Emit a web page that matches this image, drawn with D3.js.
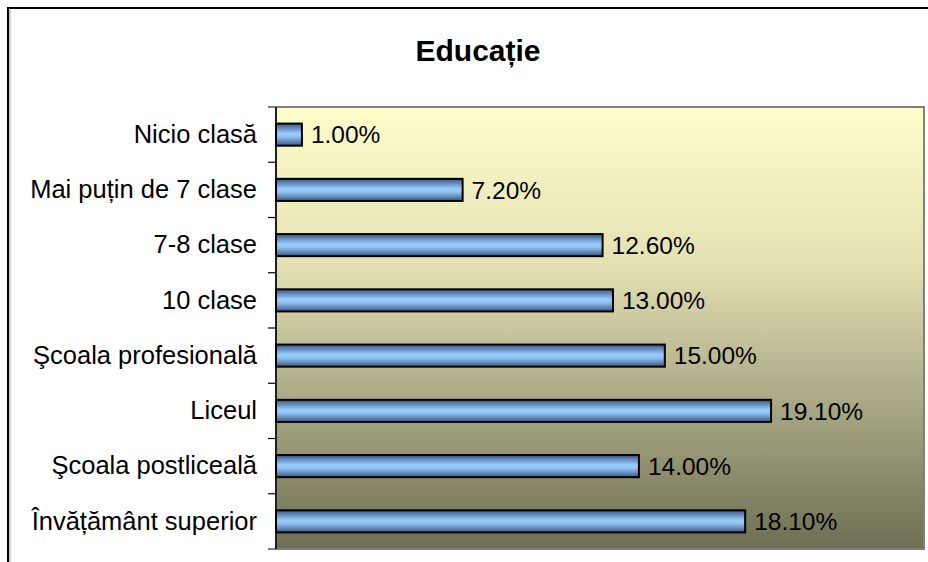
<!DOCTYPE html>
<html>
<head>
<meta charset="utf-8">
<script src="https://cdn.jsdelivr.net/npm/d3@7"></script>
<style>
    html, body { margin: 0; padding: 0; background: #ffffff; overflow: hidden; }
    svg { display: block; font-family: "Liberation Sans", Arial, sans-serif; }
</style>
</head>
<body>
<div id="chart"></div>
<script>
// Chart data
const categories = [
    "Nicio clasă",
    "Mai puțin de 7 clase",
    "7-8 clase",
    "10 clase",
    "Şcoala profesională",
    "Liceul",
    "Şcoala postliceală",
    "Învățământ superior"
];
const values = [1.0, 7.2, 12.6, 13.0, 15.0, 19.1, 14.0, 18.1];
const title  = "Educație";

const WIDTH  = 928;
const HEIGHT = 562;

// Plot area
const plot = { left: 276, top: 107, right: 924, bottom: 549 };

const svg = d3.select("#chart")
    .append("svg")
    .attr("width", WIDTH)
    .attr("height", HEIGHT);

const defs = svg.append("defs");

// Plot background gradient (light yellow -> olive)
const bg = defs.append("linearGradient")
    .attr("id", "plotBg")
    .attr("x1", 0).attr("y1", 0)
    .attr("x2", 0).attr("y2", 1);
bg.append("stop").attr("offset", "0%").attr("stop-color", "#fffdca");
bg.append("stop").attr("offset", "35%").attr("stop-color", "#e4e1b4");
bg.append("stop").attr("offset", "100%").attr("stop-color", "#6e6e53");

// Bar gradient (dark edges, light centre)
const barGrad = defs.append("linearGradient")
    .attr("id", "barGrad")
    .attr("x1", 0).attr("y1", 0)
    .attr("x2", 0).attr("y2", 1);
barGrad.append("stop").attr("offset", "0%").attr("stop-color", "#3a5782");
barGrad.append("stop").attr("offset", "45%").attr("stop-color", "#99ccff");
barGrad.append("stop").attr("offset", "60%").attr("stop-color", "#90c2f4");
barGrad.append("stop").attr("offset", "100%").attr("stop-color", "#3a5782");

// Outer chart frame (runs off the right and bottom edge)
svg.append("rect")
    .attr("x", 8)
    .attr("y", 8)
    .attr("width", 960)
    .attr("height", 600)
    .attr("fill", "none")
    .attr("stroke", "#000")
    .attr("stroke-width", 2);
svg.append("line")
    .attr("x1", 10).attr("y1", 10)
    .attr("x2", 10).attr("y2", HEIGHT)
    .attr("stroke", "#a0a0a0")
    .attr("stroke-width", 1);

// Title
svg.append("text")
    .attr("x", 478)
    .attr("y", 61)
    .attr("text-anchor", "middle")
    .attr("font-size", 30)
    .attr("font-weight", "bold")
    .text(title);

// Scales
const x = d3.scaleLinear()
    .domain([0, 25])
    .range([plot.left, plot.right]);

const y = d3.scaleBand()
    .domain(categories)
    .range([plot.top, plot.bottom])
    .paddingInner(0.6)
    .paddingOuter(0.3);

// Plot background
svg.append("rect")
    .attr("x", plot.left)
    .attr("y", plot.top)
    .attr("width", plot.right - plot.left)
    .attr("height", plot.bottom - plot.top)
    .attr("fill", "url(#plotBg)")
    .attr("stroke", "#808080")
    .attr("stroke-width", 2);

// Category axis ticks sit on the band boundaries
const step = y.step();
const boundaries = d3.range(categories.length + 1).map((i) => plot.top + i * step);

svg.append("g")
    .attr("class", "ticks")
    .selectAll("line")
    .data(boundaries)
    .join("line")
    .attr("x1", plot.left - 8)
    .attr("x2", plot.left)
    .attr("y1", (d) => d)
    .attr("y2", (d) => d)
    .attr("stroke", (d, i) => (i === 0 || i === categories.length) ? "#808080" : "#000")
    .attr("stroke-width", (d, i) => (i === 0 || i === categories.length) ? 2 : 1.2);

// Category labels through the axis generator
const yAxis = svg.append("g")
    .attr("transform", "translate(" + plot.left + ",0)")
    .call(d3.axisLeft(y).tickSize(0).tickPadding(19));

yAxis.select(".domain").remove();
yAxis.selectAll("text")
    .attr("font-size", 25.5)
    .attr("font-family", "'Liberation Sans', Arial, sans-serif")
    .attr("fill", "#000");

// Bars
svg.append("g")
    .selectAll("rect")
    .data(values)
    .join("rect")
    .attr("x", plot.left)
    .attr("y", (d, i) => y(categories[i]))
    .attr("width", (d) => x(d) - plot.left)
    .attr("height", y.bandwidth())
    .attr("fill", "url(#barGrad)")
    .attr("stroke", "#000")
    .attr("stroke-width", 2);

// Value labels
svg.append("g")
    .selectAll("text")
    .data(values)
    .join("text")
    .attr("x", (d) => x(d) + 9)
    .attr("y", (d, i) => y(categories[i]) + y.bandwidth() / 2)
    .attr("dy", "0.36em")
    .attr("font-size", 24.5)
    .text((d) => d.toFixed(2) + "%");

// Value axis line (left)
svg.append("line")
    .attr("x1", plot.left)
    .attr("x2", plot.left)
    .attr("y1", plot.top)
    .attr("y2", plot.bottom)
    .attr("stroke", "#000")
    .attr("stroke-width", 1.5);
</script>
</body>
</html>
